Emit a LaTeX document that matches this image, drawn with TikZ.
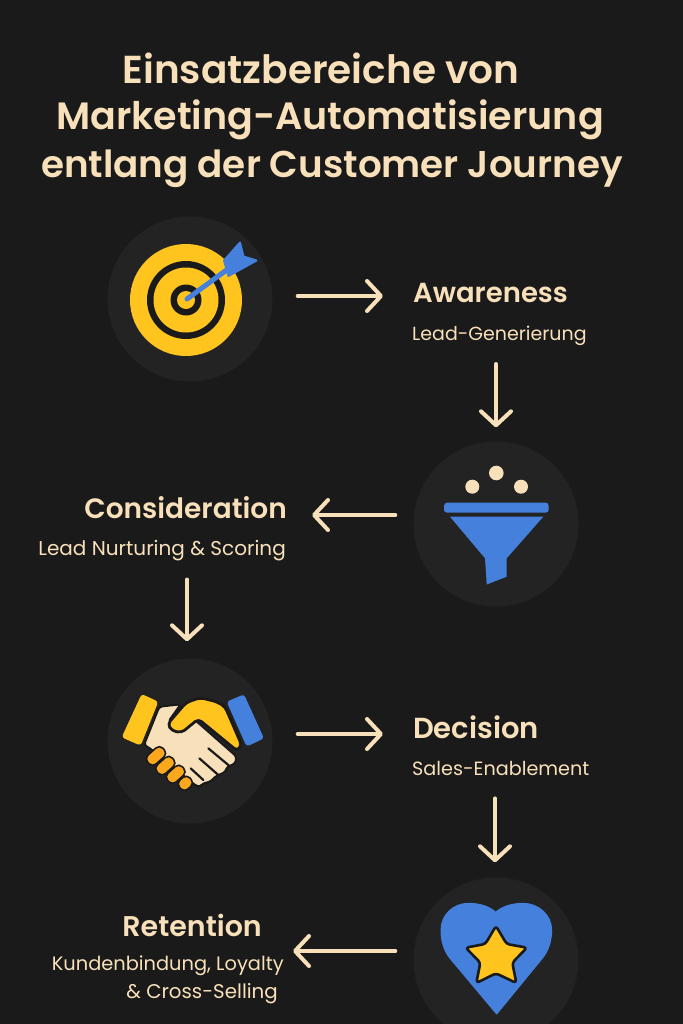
\documentclass[tikz,border=0pt]{standalone}
\usepackage{fontspec}
\setmainfont{Poppins}[BoldFont=* SemiBold]
\usetikzlibrary{arrows.meta}
\definecolor{bgdark}{HTML}{1A1A1A}
\definecolor{discdark}{HTML}{232323}
\definecolor{cream}{HTML}{F8E0BA}
\definecolor{sunny}{HTML}{FFC41E}
\definecolor{skyblue}{HTML}{4480DC}
\definecolor{amber}{HTML}{FBA81E}
\tikzset{
  disc/.style={circle,fill=discdark,minimum size=165bp,inner sep=0pt},
  headline/.style={inner sep=0pt,text=cream,font=\fontsize{#1}{40bp}\selectfont\bfseries},
  stage/.style={inner sep=0pt,text=cream,font=\fontsize{#1}{30bp}\selectfont\bfseries},
  stage/.default=28bp,
  detail/.style={inner sep=0pt,text=cream,font=\fontsize{#1}{22bp}\selectfont},
  detail/.default=19.2bp,
  flow/.style={cream,line width=4bp,line cap=round,-{Straight Barb[length=14bp,width=30bp,line width=4bp,round]}},
  zoomed/.style={x=0.3333bp,y=-0.3333bp},
}
\begin{document}
\begin{tikzpicture}[x=1bp,y=-1bp,line join=round]
\useasboundingbox (0,0) rectangle (683,1024);
\clip (0,0) rectangle (683,1024);
\fill[bgdark] (0,0) rectangle (683,1024);
%% title
\node (node_title1) at (321,68) [headline=39bp] {Einsatzbereiche von};
\node (node_title2) at (330,120) [headline=38bp] {Marketing-Automatisierung};
\node (node_title3) at (332,169) [headline=37.3bp] {entlang der Customer Journey};
%% discs
\node (node_target) at (190,299) [disc] {};
\node (node_funnel) at (496,524) [disc] {};
\node (node_hands) at (190,741) [disc] {};
\node (node_heart) at (496,960) [disc] {};
%% labels
\node (node_awareness) at (413,293) [stage=27.5bp,anchor=west] {Awareness};
\node (node_leadgen) at (412,336) [detail=19bp,anchor=west] {Lead-Generierung};
\node (node_consideration) at (287,508) [stage,anchor=east] {Consideration};
\node (node_nurturing) at (286,551) [detail=20bp,anchor=east] {Lead Nurturing \& Scoring};
\node (node_decision) at (413,727) [stage=29bp,anchor=west] {Decision};
\node (node_sales) at (412,768) [detail,anchor=west] {Sales-Enablement};
\node (node_retention) at (262,925) [stage=28.5bp,anchor=east] {Retention};
\node (node_loyalty) at (284,966) [detail=19.4bp,anchor=east] {Kundenbindung, Loyalty};
\node (node_cross) at (278,994) [detail=19.8bp,anchor=east] {\& Cross-Selling};
%% target
\fill[sunny] (186,300) circle (56);
\fill[bgdark] (186,300) circle (39);
\fill[sunny] (186,300) circle (32.5);
\fill[bgdark] (186,300) circle (15.5);
\fill[sunny] (186,300) circle (9);
\draw[skyblue,line width=5bp,line cap=round] (187,299) -- (232,266);
\fill[skyblue,draw=skyblue,line width=2bp] (240,242.5) -- (243.5,256.5) -- (256.5,260.5) -- (228.5,276) -- (224,260.5) -- cycle;
%% funnel
\fill[cream] (472.3,486.7) circle (7) (496.3,473) circle (7.3) (521,486.7) circle (7);
\fill[skyblue,rounded corners=3bp] (444,502.7) rectangle (548.7,512.7);
\fill[skyblue] (450,516.7) -- (543.3,516.7) -- (506.7,558.3) -- (506.7,576.7) -- (486.7,584.5) -- (485,558.3) -- cycle;
%% handshake
\begin{scope}[shift={(100,650)},zoomed]
\fill[sunny,rounded corners=3bp] (125,132) -- (175,155) -- (122,287) -- (65,262) -- cycle;
\fill[skyblue,rounded corners=3bp] (380,155) -- (432,133) -- (492,265) -- (440,290) -- cycle;
\draw[bgdark,fill=cream,line width=2bp,rounded corners=3bp] (178,170) -- (242,163) -- (205,215) -- (285,210) -- (410,320) -- (405,342) -- (380,350) -- (378,365) -- (345,380) -- (332,395) -- (308,400) -- (300,412) -- (285,405) -- (150,295) -- (132,285) -- cycle;
\draw[bgdark,fill=sunny,line width=2.8bp,rounded corners=4bp] (203,222) -- (258,158) -- (300,143) -- (350,155) -- (375,170) -- (425,285) -- (412,303) -- (295,207) -- (245,248) -- (215,242) -- cycle;
\foreach \fx/\fy/\flen in {168/318/62,196/347/62,227/373/60,256/400/42}{
  \draw[bgdark,fill=amber,line width=1.6bp,rotate around={42:(\fx,\fy)},rounded corners=5bp] (\fx-\flen/2,\fy-18) rectangle (\fx+\flen/2,\fy+18);
}
\draw[bgdark,line width=2.2bp,line cap=round] (325,295) -- (385,345) (298,325) -- (355,375) (272,355) -- (310,390);
\end{scope}
%% heart
\begin{scope}[shift={(405,870)},zoomed]
\draw[skyblue,fill=skyblue,line width=1bp] (275,432) -- (135,265) .. controls (115,240) and (108,210) .. (108,180) .. controls (108,135) and (145,100) .. (190,100) .. controls (225,100) and (255,110) .. (272,127) .. controls (290,110) and (320,100) .. (355,100) .. controls (400,100) and (440,135) .. (440,180) .. controls (440,210) and (432,240) .. (412,265) -- cycle;
\draw[bgdark,fill=sunny,line width=2.6bp,rounded corners=3bp] (273,168) -- (305,222) -- (366,233) -- (322,278) -- (334,339) -- (273,310) -- (214,339) -- (226,278) -- (182,233) -- (241,222) -- cycle;
\end{scope}
%% connectors
\draw[flow,shorten <=25bp,shorten >=30bp] ([yshift=3bp]node_target.east) -- ([yshift=3bp]node_target.east -| node_awareness.west);
\draw[flow,shorten <=18bp,shorten >=14bp] (node_leadgen.south -| node_funnel.north) -- (node_funnel.north);
\draw[flow,shorten <=18bp,shorten >=25bp] ([yshift=9bp]node_funnel.west) -- ([yshift=9bp]node_funnel.west -| node_consideration.east);
\draw[flow,shorten <=18bp,shorten >=17bp] ([xshift=-3bp]node_nurturing.south -| node_hands.north) -- ([xshift=-3bp]node_hands.north);
\draw[flow,shorten <=25bp,shorten >=30bp] ([yshift=7bp]node_hands.east) -- ([yshift=7bp]node_hands.east -| node_decision.west);
\draw[flow,shorten <=23bp,shorten >=15bp] ([xshift=-1bp]node_sales.south -| node_heart.north) -- ([xshift=-1bp]node_heart.north);
\draw[flow,shorten <=18bp,shorten >=9bp] ([yshift=9bp]node_heart.west) -- ([yshift=9bp]node_heart.west -| node_loyalty.east);
\end{tikzpicture}
\end{document}
